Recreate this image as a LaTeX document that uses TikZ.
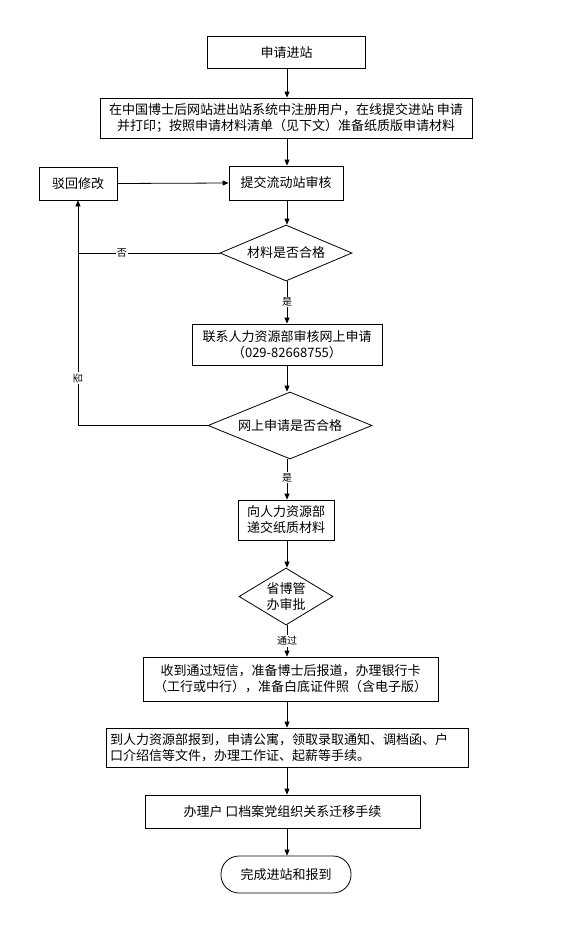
\documentclass[tikz,border=0pt]{standalone}
\usepackage{fontspec}
\setmainfont{Noto Sans CJK SC}
\usetikzlibrary{shapes.geometric,arrows.meta}
\begin{document}
\begin{tikzpicture}[x=1pt,y=-1pt,
  every node/.style={font=\fontsize{13}{16}\selectfont},
  box/.style={draw,line width=0.8pt,inner sep=2pt,align=center},
  dia/.style={draw,line width=0.8pt,diamond,inner sep=0pt,align=center},
  term/.style={draw,line width=0.8pt,rounded corners=18pt,inner sep=2pt},
  lbl/.style={fill=white,inner sep=1pt,font=\fontsize{10}{12}\selectfont},
  conn/.style={line width=0.8pt,-{Triangle[width=5pt,length=6pt]}},
  plain/.style={line width=0.8pt}]
\useasboundingbox (0,0) rectangle (588,934);
\node[box,minimum width=158pt,minimum height=32pt] (n1) at (286.5,52.5) {申请进站};
\node[box,minimum width=372pt,minimum height=40pt] (n2) at (286,118) {在中国博士后网站进出站系统中注册用户，在线提交进站 申请\\并打印；按照申请材料清单（见下文）准备纸质版申请材料};
\node[box,minimum width=78pt,minimum height=33pt] (rej) at (78,183.5) {驳回修改};
\node[box,minimum width=114pt,minimum height=34pt] (n3) at (286,183) {提交流动站审核};
\node[dia,aspect=2.36,minimum width=132pt,minimum height=56pt] (d1) at (286,253) {材料是否合格};
\node[box,minimum width=190pt,minimum height=41pt] (n4) at (287,344.5) {联系人力资源部审核网上申请\\（029-82668755）};
\node[dia,aspect=2.45,minimum width=164pt,minimum height=67pt] (d2) at (290,425.5) {网上申请是否合格};
\node[box,minimum width=96pt,minimum height=40pt] (n5) at (286,520) {向人力资源部\\递交纸质材料};
\node[dia,aspect=1.65,minimum width=94pt,minimum height=57pt] (d3) at (286,596.5) {省博管\\办审批};
\node[box,minimum width=295pt,minimum height=44pt] (n6) at (290.5,679) {收到通过短信，准备博士后报道，办理银行卡\\（工行或中行），准备白底证件照（含电子版）};
\node[box,minimum width=362pt,minimum height=39pt,align=left,text width=354pt] (n7) at (287,747.5) {到人力资源部报到，申请公寓，领取录取通知、调档函、户\\口介绍信等文件，办理工作证、起薪等手续。};
\node[box,minimum width=275pt,minimum height=33pt] (n8) at (282.5,811.5) {办理户 口档案党组织关系迁移手续};
\node[term,minimum width=130pt,minimum height=37pt] (end) at (286,874.5) {完成进站和报到};

\draw[conn] (n1.south -| 287,0) -- (n2.north -| 287,0);
\draw[conn] (n2.south -| 287,0) -- (n3.north -| 287,0);
\draw[conn] (rej.east) -- (n3.west);
\draw[conn] (n3.south -| 287,0) -- (d1.north -| 287,0);
\draw[conn] (d1.south -| 287,0) -- node[lbl,pos=0.49]{是} (n4.north -| 287,0);
\draw[conn] (n4.south -| 287,0) -- (d2.north -| 287,0);
\draw[conn] (d2.south -| 287,0) -- node[lbl,pos=0.46]{是} (n5.north -| 287,0);
\draw[conn] (n5.south -| 287,0) -- (d3.north -| 287,0);
\draw[conn] (d3.south -| 287,0) -- node[lbl,pos=0.5]{通过} (n6.north -| 287,0);
\draw[conn] (n6.south -| 287,0) -- (n7.north -| 287,0);
\draw[conn] (n7.south -| 287,0) -- (n8.north -| 287,0);
\draw[conn] (n8.south -| 287,0) -- (end.north -| 287,0);

\coordinate (j1) at (rej.south |- d1.west);
\coordinate (j2) at (rej.south |- d2.west);
\draw[plain] (d1.west) -- node[lbl,pos=0.69]{否} (j1);
\draw[plain] (d2.west) -- (j2);
\draw[conn] (j2) -- node[lbl,pos=0.21,rotate=90]{否} (rej.south);
\end{tikzpicture}
\end{document}
